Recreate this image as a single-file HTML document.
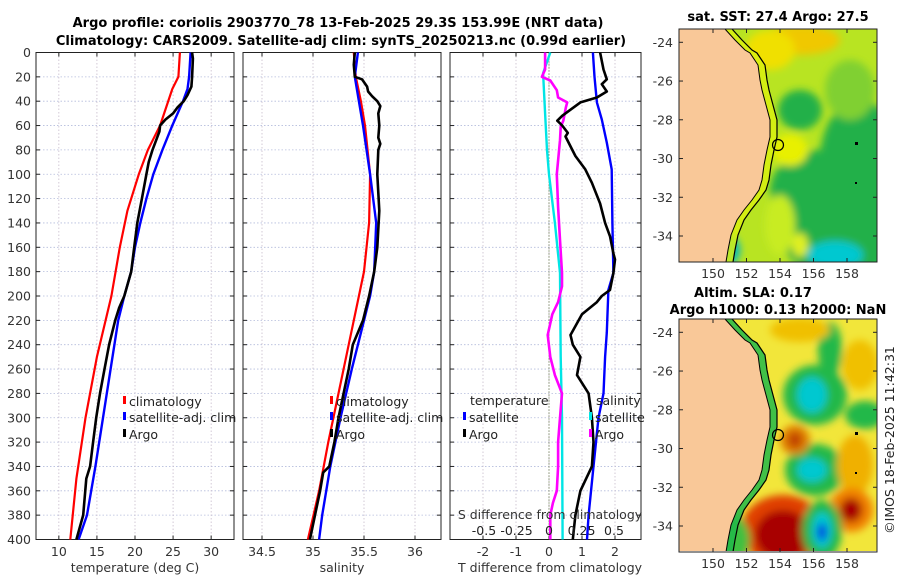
<!DOCTYPE html>
<html><head><meta charset="utf-8"><style>
html,body{margin:0;padding:0;background:#fff;}
svg{display:block;font-family:"DejaVu Sans","Liberation Sans",sans-serif;}
</style></head><body>
<svg id="fig" width="900" height="580" viewBox="0 0 900 580" xmlns="http://www.w3.org/2000/svg">
<defs>
<filter id="blr" x="-50%" y="-50%" width="200%" height="200%"><feGaussianBlur stdDeviation="4"/></filter>
<clipPath id="clipTop"><rect x="679" y="29" width="198" height="233"/></clipPath>
<clipPath id="clipBot"><rect x="679" y="319" width="198" height="232"/></clipPath>
</defs>
<text x="338" y="27" text-anchor="middle" font-size="13" font-weight="bold">Argo profile: coriolis 2903770_78 13-Feb-2025 29.3S 153.99E (NRT data)</text>
<text x="341" y="45" text-anchor="middle" font-size="13" font-weight="bold">Climatology: CARS2009. Satellite-adj clim: synTS_20250213.nc (0.99d earlier)</text>
<g id="panels"></g>
<g id="maps"></g>
<text transform="translate(894,440) rotate(-90)" text-anchor="middle" font-size="12.5" fill="#222">©IMOS 18-Feb-2025 11:42:31</text>
</svg>
<script>
// ---- data ----
const depthTicks = [0,20,40,60,80,100,120,140,160,180,200,220,240,260,280,300,320,340,360,380,400];
const tempTicks = [10,15,20,25,30];
const salTicks = [34.5,35,35.5,36];
const tdiffTicks = [-2,-1,0,1,2];
const sdiffTicks = [-0.5,-0.25,0,0.25,0.5];
const sdiffTickLabels = ["-0.5","-0.25","0","0.25","0.5"];

const climTDepth = [0,20,30,60,80,100,130,160,200,250,300,350,400];
const climT      = [25.9,25.7,24.9,23.3,21.7,20.5,19.0,18.0,16.9,15.0,13.5,12.3,11.5];
const satTDepth  = [0,20,30,40,60,80,100,120,140,160,180,200,220,260,300,340,380,400];
const satT       = [27.3,27.1,26.9,26.3,24.9,23.6,22.4,21.5,20.7,20.0,19.5,18.6,17.8,16.8,15.8,14.8,13.7,12.6];
const argoTDepth = [0,5,20,28,35,40,45,50,55,60,65,70,80,90,100,120,140,160,180,200,210,220,240,260,280,300,320,340,350,380,400];
const argoT      = [27.5,27.6,27.5,27.4,26.9,26.4,25.6,25.0,24.0,23.3,23.2,22.9,22.3,21.8,21.5,20.9,20.3,19.9,19.5,18.6,17.9,17.4,16.6,16.0,15.4,14.9,14.5,14.1,13.6,13.2,12.3];

const climSDepth = [0,20,40,60,100,140,180,200,240,280,320,360,400];
const climS      = [35.40,35.42,35.47,35.51,35.56,35.55,35.50,35.45,35.35,35.25,35.15,35.06,34.95];
const satSDepth  = [0,20,40,60,100,140,180,200,220,260,300,340,380,400];
const satS       = [35.44,35.41,35.45,35.49,35.56,35.62,35.60,35.56,35.50,35.38,35.27,35.17,35.09,35.06];
const argoSDepth = [0,10,20,22,28,32,36,40,44,50,60,70,75,80,100,130,160,180,200,220,240,260,280,300,320,340,345,360,380,400];
const argoS      = [35.41,35.40,35.41,35.48,35.53,35.54,35.58,35.63,35.66,35.64,35.65,35.64,35.66,35.64,35.63,35.65,35.63,35.60,35.55,35.49,35.39,35.35,35.30,35.25,35.21,35.16,35.10,35.07,35.02,34.97];

const satTdDepth  = [0,20,41,55,74,96,140,181,195,230,250,280,300,340,380,400];
const satTd       = [1.33,1.38,1.45,1.6,1.75,1.9,1.92,1.95,1.8,1.75,1.7,1.65,1.5,1.35,1.2,1.15];
const argoTdDepth = [0,14,22,26,32,37,41,47,52,56,60,66,69,85,96,107,124,140,151,165,170,181,195,200,205,215,232,240,250,265,280,300,320,340,360,380,400];
const argoTd      = [1.55,1.65,1.75,1.6,1.75,1.45,0.95,0.65,0.4,0.25,0.4,0.57,0.5,0.8,1.1,1.3,1.55,1.7,1.85,1.95,2.0,1.95,1.85,1.6,1.45,1.0,0.65,0.72,0.95,0.85,1.2,1.3,1.35,1.3,0.95,0.8,0.72];
const satSdDepth  = [0,17,50,80,100,140,181,250,300,400];
const satSd       = [0.01,-0.045,-0.03,-0.015,0,0.045,0.085,0.09,0.1,0.105];
const argoSdDepth = [0,14,20,23,31,37,41,45,56,61,72,100,127,154,181,192,205,215,232,250,265,280,300,320,340,360,370,380,400];
const argoSd      = [-0.03,-0.03,-0.055,0.01,0.06,0.07,0.14,0.13,0.11,0.09,0.085,0.06,0.07,0.085,0.1,0.1,0.07,0.025,-0.01,0.01,0.045,0.1,0.085,0.07,0.07,0.06,0.03,0.01,0.01];

const latTicks = [-24,-26,-28,-30,-32,-34];
const lonTicks = [150,152,154,156,158];

// ---- helpers ----
const NS = "http://www.w3.org/2000/svg";
function mk(tag, attrs, parent){const e=document.createElementNS(NS,tag);for(const k in attrs)e.setAttribute(k,attrs[k]);parent.appendChild(e);return e;}
const Y0=52.5, Y1=539.5;
function yD(d){return Y0+(d/400)*(Y1-Y0);}
function lin(d0,d1,r0,r1){return v=>r0+(v-d0)/(d1-d0)*(r1-r0);}

const panelsG=document.getElementById('panels');
const P1={x0:36,x1:234}, P2={x0:243,x1:441}, P3={x0:450,x1:641};
const xT=lin(7,33,P1.x0,P1.x1);
const xS=lin(35,36,313,415);
const xTd=lin(0,1,549,582);
const xSd=lin(0,0.5,549,614);

function drawPanel(P, name, ticks, xf, labels, showY){
  const g=mk('g',{},panelsG);
  
  
  depthTicks.forEach(d=>{
    const l=mk('line',{x1:P.x0,x2:P.x1,y1:yD(d),y2:yD(d),stroke:'#b4bcdc','stroke-width':0.8,'stroke-dasharray':'1.5,2'},g);
    
    
  });
  ticks.forEach((t,i)=>{
    const x=xf(t);
    const l=mk('line',{x1:x,x2:x,y1:Y0,y2:Y1,stroke:'#c8bccc','stroke-width':0.8,'stroke-dasharray':'1.5,2'},g);
    
    
    mk('line',{x1:x,x2:x,y1:Y1,y2:Y1-4,stroke:'#222'},g);
    mk('line',{x1:x,x2:x,y1:Y0,y2:Y0+4,stroke:'#222'},g);
    const tx=mk('text',{x:x,y:556,'text-anchor':'middle','font-size':12.5,fill:'#333'},g);
    tx.textContent=labels[i];
    
    
  });
  depthTicks.forEach(d=>{
    mk('line',{x1:P.x0,x2:P.x0+4,y1:yD(d),y2:yD(d),stroke:'#222'},g);
    mk('line',{x1:P.x1,x2:P.x1-4,y1:yD(d),y2:yD(d),stroke:'#222'},g);
    if(showY){
      const tx=mk('text',{x:31,y:yD(d)+4.5,'text-anchor':'end','font-size':12.5,fill:'#333'},g);
      tx.textContent=d;
      
      
    }
  });
  const b=mk('rect',{x:P.x0,y:Y0,width:P.x1-P.x0,height:Y1-Y0,fill:'none',stroke:'#222','stroke-width':1},g);
  
  
  return g;
}
function series(g, depths, vals, xf, color, w, name){
  const pts=depths.map((d,i)=>xf(vals[i]).toFixed(1)+','+yD(d).toFixed(1)).join(' ');
  const p=mk('polyline',{points:pts,fill:'none',stroke:color,'stroke-width':w,'stroke-linejoin':'round'},g);
  
  
}
function legendEntry(g, x, y, color, label, name){
  const e=mk('g',{},g);
  
  
  mk('rect',{x:x,y:y-10,width:3,height:8,fill:color},e);
  const t=mk('text',{x:x+6,y:y,'font-size':12.5,fill:'#222'},e);
  t.textContent=label;
}
function axisTitle(x,y,txt,name){
  const t=mk('text',{x:x,y:y,'text-anchor':'middle','font-size':12.5,fill:'#333'},panelsG);
  t.textContent=txt;
  
  
}

const g1=drawPanel(P1,'temperature-panel',tempTicks,xT,tempTicks.map(String),true);
series(g1,climTDepth,climT,xT,'#ff0000',2.2,'temp-climatology-line');
series(g1,satTDepth,satT,xT,'#0000ff',2.4,'temp-satellite-line');
series(g1,argoTDepth,argoT,xT,'#000',2.6,'temp-argo-line');
legendEntry(g1,123,406,'#ff0000','climatology','legend-climatology');
legendEntry(g1,123,422,'#0000ff','satellite-adj. clim','legend-satellite-adj');
legendEntry(g1,123,439,'#000','Argo','legend-argo');
axisTitle(135,572,'temperature (deg C)','x-axis-title-temperature');

const g2=drawPanel(P2,'salinity-panel',salTicks,xS,['34.5','35','35.5','36'],false);
series(g2,climSDepth,climS,xS,'#ff0000',2.2,'sal-climatology-line');
series(g2,satSDepth,satS,xS,'#0000ff',2.4,'sal-satellite-line');
series(g2,argoSDepth,argoS,xS,'#000',2.6,'sal-argo-line');
legendEntry(g2,330,406,'#ff0000','climatology','legend-climatology-2');
legendEntry(g2,330,422,'#0000ff','satellite-adj. clim','legend-satellite-adj-2');
legendEntry(g2,330,439,'#000','Argo','legend-argo-2');
axisTitle(342,572,'salinity','x-axis-title-salinity');

const g3=drawPanel(P3,'difference-panel',tdiffTicks,xTd,tdiffTicks.map(String),false);
const zl=mk('line',{x1:549,x2:549,y1:Y0,y2:Y1,stroke:'#556633','stroke-width':1,'stroke-dasharray':'1,2'},g3);


series(g3,satSdDepth,satSd,xSd,'#00e5e5',2.4,'sdiff-satellite-line');
series(g3,argoSdDepth,argoSd,xSd,'#ff00ff',2.6,'sdiff-argo-line');
series(g3,satTdDepth,satTd,xTd,'#0000ff',2.4,'tdiff-satellite-line');
series(g3,argoTdDepth,argoTd,xTd,'#000',2.6,'tdiff-argo-line');
{
  const t=mk('text',{x:470,y:405,'font-size':12.5,fill:'#222'},g3);t.textContent='temperature';
  
  
  const s=mk('text',{x:596,y:405,'font-size':12.5,fill:'#222'},g3);s.textContent='salinity';
  
  
}
legendEntry(g3,463,422,'#0000ff','satellite','legend-t-satellite');
legendEntry(g3,463,439,'#000','Argo','legend-t-argo');
legendEntry(g3,589,422,'#00e5e5','satellite','legend-s-satellite');
legendEntry(g3,589,439,'#ff00ff','Argo','legend-s-argo');
axisTitle(550,519,'S difference from climatology','s-axis-title');
sdiffTicks.forEach((v,i)=>{
  const t=mk('text',{x:xSd(v),y:535,'text-anchor':'middle','font-size':12.5,fill:'#222'},panelsG);
  t.textContent=sdiffTickLabels[i];
  
  
});
axisTitle(550,572,'T difference from climatology','t-axis-title');

// ---- maps ----
const mapsG=document.getElementById('maps');
const lonX=lin(150,158,713,847);
function drawMap(off, name, clipId, blobs, bg, bandColor){
  const g=mk('g',{},mapsG);
  
  
  const latY=lin(-24,-34,42.3+off,236+off);
  const c=mk('g',{'clip-path':'url(#'+clipId+')'},g);
  mk('rect',{x:679,y:29+off,width:198,height:233,fill:bg},c);
  const bl=mk('g',{filter:'url(#blr)'},c);
  blobs.forEach(b=>{mk('ellipse',{cx:b[0],cy:b[1]+off,rx:b[2],ry:b[3],fill:b[4]},bl);});
  const coast=[[725,29],[735,40],[745,50],[750,53],[758,65],[760,80],[762,90],[766,105],[770,120],[770,137],[767,150],[764,165],[762,180],[759,190],[752,200],[744,210],[737,220],[731,235],[728,250],[726,262]];
  const shelf=coast.map(p=>[p[0]+7,p[1]]);
  const band=coast.map(p=>p[0]+','+(p[1]+off)).concat(shelf.slice().reverse().map(p=>p[0]+','+(p[1]+off))).join(' ');
  mk('polygon',{points:band,fill:bandColor,opacity:0.85},c);
  const land=[[679,29]].concat(coast).concat([[679,262]]).map(p=>p[0]+','+(p[1]+off)).join(' ');
  const lp=mk('polygon',{points:land,fill:'#f9c898',stroke:'#000','stroke-width':1},c);
  
  
  mk('polyline',{points:shelf.map(p=>p[0]+','+(p[1]+off)).join(' '),fill:'none',stroke:'#000','stroke-width':1.2},c);
  mk('rect',{x:855,y:142+off,width:3,height:3,fill:'#000'},c);
  mk('rect',{x:855,y:182+off,width:2,height:2,fill:'#000'},c);
  const circ=mk('circle',{cx:778,cy:145+off,r:5.5,fill:'none',stroke:'#000','stroke-width':1.2},g);
  
  
  mk('rect',{x:679,y:29+off,width:198,height:233,fill:'none',stroke:'#222','stroke-width':1},g);
  latTicks.forEach(l=>{
    const y=latY(l);
    mk('line',{x1:679,x2:683,y1:y,y2:y,stroke:'#222'},g);
    mk('line',{x1:877,x2:873,y1:y,y2:y,stroke:'#222'},g);
    const t=mk('text',{x:673,y:y+4.5,'text-anchor':'end','font-size':12.5,fill:'#333'},g);
    t.textContent=l;
    
    
  });
  lonTicks.forEach(l=>{
    const x=lonX(l);
    mk('line',{x1:x,x2:x,y1:262+off,y2:258+off,stroke:'#222'},g);
    mk('line',{x1:x,x2:x,y1:29+off,y2:33+off,stroke:'#222'},g);
    const t=mk('text',{x:x,y:278+off,'text-anchor':'middle','font-size':12.5,fill:'#333'},g);
    t.textContent=l;
    
    
  });
}
const sstBlobs=[
 [840,230,60,50,'#22b04a'],[860,160,40,60,'#22b04a'],[820,190,50,40,'#22b04a'],
 [800,110,22,20,'#22b04a'],[850,90,25,30,'#80d030'],[800,40,40,15,'#f0c800'],[770,50,25,20,'#f0e000'],
 [790,150,18,16,'#e8f000'],[835,255,28,14,'#00c8d0'],[715,250,25,20,'#00b8c0'],[780,225,15,30,'#c8ec20'],
 [800,245,8,12,'#e0f020']];
drawMap(0,'sst-map','clipTop',sstBlobs,'#b8e422','#d8f010');
const t1=mk('text',{x:778,y:21,'text-anchor':'middle','font-size':13,'font-weight':'bold'},mapsG);
t1.textContent='sat. SST: 27.4 Argo: 27.5';



const slaBlobs=[
 [815,105,32,30,'#22b84a'],[830,60,12,28,'#22b84a'],[812,105,15,18,'#00c8d0'],
 [815,180,30,26,'#22b84a'],[812,180,15,12,'#00c8d0'],[865,125,20,14,'#22b84a'],
 [800,40,30,12,'#f0c000'],[860,75,18,25,'#f0c000'],[855,175,18,30,'#f0b000'],[795,150,15,15,'#e08000'],[795,150,7,8,'#c04000'],
 [783,240,42,35,'#e04000'],[783,245,28,25,'#a80000'],[851,220,22,22,'#f08000'],[851,220,11,12,'#a80000'],
 [822,240,20,30,'#22b84a'],[822,240,10,18,'#00c8d0'],[822,242,5,9,'#0040e0'],[720,250,30,30,'#40c040']];
drawMap(290,'sla-map','clipBot',slaBlobs,'#f2e63a','#22b84a');
const t2=mk('text',{x:753,y:297,'text-anchor':'middle','font-size':13,'font-weight':'bold'},mapsG);
t2.textContent='Altim. SLA: 0.17';


const t3=mk('text',{x:778,y:314,'text-anchor':'middle','font-size':13,'font-weight':'bold'},mapsG);
t3.textContent='Argo h1000: 0.13 h2000: NaN';


</script>
</body></html>
